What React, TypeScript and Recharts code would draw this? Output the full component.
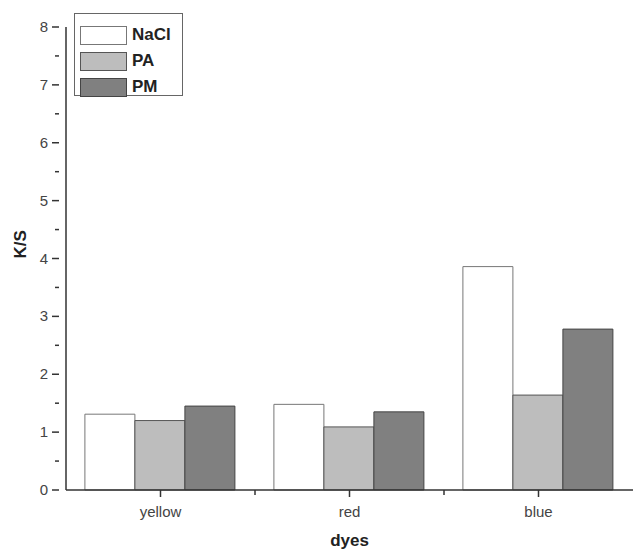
import { BarChart, Bar, XAxis, YAxis, Label } from "recharts";

const dyes = ["yellow", "red", "blue"];
const nacl = [1.31, 1.48, 3.86];
const pa = [1.2, 1.09, 1.64];
const pm = [1.45, 1.35, 2.78];
const yTicks = [0, 0.5, 1, 1.5, 2, 2.5, 3, 3.5, 4, 4.5, 5, 5.5, 6, 6.5, 7, 7.5, 8];

const SERIES = [
  { key: "NaCl", fill: "#ffffff", stroke: "#777777" },
  { key: "PA", fill: "#bdbdbd", stroke: "#555555" },
  { key: "PM", fill: "#808080", stroke: "#444444" },
];

const data = dyes.map((d, i) => ({ dye: d, NaCl: nacl[i], PA: pa[i], PM: pm[i] }));

const FONT = "'Liberation Sans', Arial, sans-serif";

function YTick(props: any) {
  const { x, y, payload } = props;
  const major = Number.isInteger(payload.value);
  return (
    <g>
      <line x1={x + 1} x2={x + 1 - (major ? 7 : 4)} y1={y} y2={y} stroke="#333" strokeWidth={1.5} />
      {major && (
        <text x={x - 10} y={y} dy={5} textAnchor="end" fontSize={15} fill="#444" fontFamily={FONT}>
          {payload.value}
        </text>
      )}
    </g>
  );
}

function XTick(props: any) {
  const { x, y, payload, index } = props;
  const half = payload.offset ?? 94.5;
  return (
    <g>
      <line x1={x} x2={x} y1={y - 8} y2={y - 1} stroke="#333" strokeWidth={1.5} />
      {index > 0 && (
        <line x1={x - half} x2={x - half} y1={y - 8} y2={y - 3} stroke="#333" strokeWidth={1.5} />
      )}
      <text x={x} y={y + 19} textAnchor="middle" fontSize={15} fill="#444" fontFamily={FONT}>
        {payload.value}
      </text>
    </g>
  );
}

function LegendBox() {
  return (
    <div
      style={{
        position: "absolute",
        left: 74,
        top: 13,
        border: "1px solid #666",
        background: "#fff",
        width: 109,
        height: 83,
        boxSizing: "border-box",
        padding: "8px 0 0 5px",
        fontFamily: FONT,
      }}
    >
      {SERIES.map((s) => (
        <div key={s.key} style={{ display: "flex", alignItems: "center", height: 26 }}>
          <span
            style={{
              width: 47,
              height: 19,
              background: s.fill,
              border: `1.5px solid ${s.stroke}`,
              boxSizing: "border-box",
              display: "inline-block",
            }}
          />
          <span style={{ marginLeft: 5, fontSize: 17, fontWeight: "bold", color: "#222" }}>{s.key}</span>
        </div>
      ))}
    </div>
  );
}

export default function App() {
  return (
    <div style={{ position: "absolute", left: 0, top: 0, width: 633, height: 556, background: "#fff" }}>
      <BarChart
        width={633}
        height={556}
        data={data}
        margin={{ top: 27, right: 0, bottom: 30, left: 20 }}
        barCategoryGap="10%"
        barGap={0}
      >
        <XAxis
          dataKey="dye"
          height={36}
          axisLine={{ stroke: "#333", strokeWidth: 1.5 }}
          tickLine={false}
          tick={<XTick />}
        >
          <Label value="dyes" position="insideBottom" offset={-20} fontSize={17} fontWeight="bold" fill="#222" fontFamily={FONT} />
        </XAxis>
        <YAxis
          width={46}
          domain={[0, 8]}
          ticks={yTicks}
          interval={0}
          axisLine={{ stroke: "#333", strokeWidth: 1.5 }}
          tickLine={false}
          tick={<YTick />}
        >
          <Label value="K/S" angle={-90} position="insideLeft" offset={0} fontSize={17} fontWeight="bold" fill="#222" fontFamily={FONT} />
        </YAxis>
        {SERIES.map((s) => (
          <Bar key={s.key} dataKey={s.key} fill={s.fill} stroke={s.stroke} strokeWidth={1} isAnimationActive={false} />
        ))}
      </BarChart>
      <LegendBox />
    </div>
  );
}
